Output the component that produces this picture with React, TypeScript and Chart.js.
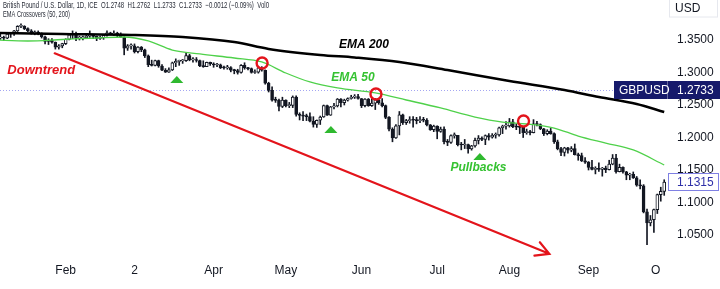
import React, { useEffect, useRef } from "react";
import { Chart, registerables } from "chart.js";

Chart.register(...registerables);

// ---- Daily candles [open, high, low, close] ----
const jan = [
  [1.3530, 1.3540, 1.3480, 1.3490], [1.3490, 1.3560, 1.3450, 1.3530], [1.3530, 1.3600, 1.3510, 1.3545],
  [1.3545, 1.3560, 1.3490, 1.3530], [1.3530, 1.3600, 1.3520, 1.3590], [1.3590, 1.3600, 1.3540, 1.3595],
  [1.3595, 1.3650, 1.3570, 1.3640], [1.3640, 1.3720, 1.3630, 1.3710], [1.3710, 1.3748, 1.3690, 1.3712],
  [1.3712, 1.3720, 1.3660, 1.3676], [1.3676, 1.3686, 1.3630, 1.3640], [1.3640, 1.3660, 1.3590, 1.3610],
  [1.3610, 1.3640, 1.3580, 1.3620], [1.3620, 1.3640, 1.3580, 1.3600], [1.3600, 1.3610, 1.3530, 1.3550],
  [1.3550, 1.3560, 1.3440, 1.3480], [1.3480, 1.3520, 1.3430, 1.3500], [1.3500, 1.3520, 1.3450, 1.3465],
  [1.3465, 1.3470, 1.3360, 1.3390], [1.3390, 1.3430, 1.3360, 1.3410], [1.3410, 1.3450, 1.3380, 1.3445],
];
const feb = [
  [1.3445, 1.3520, 1.3430, 1.3510], [1.3510, 1.3590, 1.3500, 1.3580], [1.3580, 1.3640, 1.3520, 1.3600],
  [1.3600, 1.3620, 1.3490, 1.3530], [1.3530, 1.3560, 1.3500, 1.3532], [1.3532, 1.3560, 1.3500, 1.3535],
  [1.3535, 1.3580, 1.3520, 1.3560], [1.3560, 1.3640, 1.3540, 1.3562], [1.3562, 1.3580, 1.3520, 1.3555],
  [1.3555, 1.3560, 1.3490, 1.3525], [1.3525, 1.3560, 1.3510, 1.3535], [1.3535, 1.3580, 1.3510, 1.3570],
  [1.3570, 1.3640, 1.3560, 1.3610], [1.3610, 1.3620, 1.3580, 1.3590], [1.3590, 1.3640, 1.3570, 1.3595],
  [1.3595, 1.3620, 1.3550, 1.3590], [1.3590, 1.3610, 1.3540, 1.3545], [1.3545, 1.3550, 1.3272, 1.3375],
  [1.3375, 1.3430, 1.3340, 1.3410], [1.3410, 1.3440, 1.3360, 1.3412],
];
const mar = [
  [1.3412, 1.3440, 1.3300, 1.3320], [1.3320, 1.3400, 1.3300, 1.3390], [1.3390, 1.3400, 1.3320, 1.3350],
  [1.3350, 1.3360, 1.3230, 1.3255], [1.3255, 1.3270, 1.3090, 1.3120], [1.3120, 1.3190, 1.3100, 1.3110],
  [1.3110, 1.3190, 1.3100, 1.3185], [1.3185, 1.3190, 1.3080, 1.3100], [1.3100, 1.3120, 1.3030, 1.3035],
  [1.3035, 1.3060, 1.3000, 1.3005], [1.3005, 1.3070, 1.3000, 1.3040], [1.3040, 1.3160, 1.3030, 1.3150],
  [1.3150, 1.3210, 1.3090, 1.3170], [1.3170, 1.3190, 1.3110, 1.3180], [1.3180, 1.3200, 1.3140, 1.3182],
  [1.3182, 1.3295, 1.3170, 1.3260], [1.3260, 1.3280, 1.3180, 1.3195], [1.3195, 1.3230, 1.3160, 1.3198],
  [1.3198, 1.3230, 1.3160, 1.3185], [1.3185, 1.3190, 1.3090, 1.3100], [1.3100, 1.3180, 1.3080, 1.3090],
  [1.3090, 1.3160, 1.3090, 1.3155], [1.3155, 1.3160, 1.3110, 1.3135],
];
const apr = [
  [1.3135, 1.3150, 1.3080, 1.3115], [1.3115, 1.3140, 1.3090, 1.3118], [1.3118, 1.3130, 1.3060, 1.3075],
  [1.3075, 1.3100, 1.3050, 1.3070], [1.3070, 1.3110, 1.3050, 1.3075], [1.3075, 1.3090, 1.3010, 1.3035],
  [1.3035, 1.3050, 1.2980, 1.3030], [1.3030, 1.3050, 1.2975, 1.3000], [1.3000, 1.3120, 1.2990, 1.3110],
  [1.3110, 1.3150, 1.3050, 1.3070], [1.3070, 1.3080, 1.3040, 1.3060], [1.3060, 1.3070, 1.2990, 1.3000],
  [1.3000, 1.3040, 1.2985, 1.3005], [1.3005, 1.3090, 1.2990, 1.3070], [1.3070, 1.3090, 1.3020, 1.3035],
  [1.3035, 1.3040, 1.2820, 1.2835], [1.2835, 1.2850, 1.2700, 1.2725], [1.2725, 1.2780, 1.2560, 1.2575],
  [1.2575, 1.2620, 1.2540, 1.2570], [1.2570, 1.2590, 1.2410, 1.2480], [1.2480, 1.2620, 1.2460, 1.2575],
];
const may = [
  [1.2575, 1.2580, 1.2470, 1.2490], [1.2490, 1.2540, 1.2460, 1.2492], [1.2492, 1.2640, 1.2460, 1.2620],
  [1.2620, 1.2640, 1.2330, 1.2355], [1.2355, 1.2380, 1.2270, 1.2340], [1.2340, 1.2400, 1.2260, 1.2330],
  [1.2330, 1.2360, 1.2260, 1.2320], [1.2320, 1.2380, 1.2240, 1.2250], [1.2250, 1.2320, 1.2160, 1.2200],
  [1.2200, 1.2270, 1.2155, 1.2265], [1.2265, 1.2330, 1.2200, 1.2315], [1.2315, 1.2500, 1.2310, 1.2490],
  [1.2490, 1.2500, 1.2340, 1.2345], [1.2345, 1.2480, 1.2340, 1.2470], [1.2470, 1.2525, 1.2440, 1.2485],
  [1.2485, 1.2600, 1.2470, 1.2590], [1.2590, 1.2600, 1.2470, 1.2535], [1.2535, 1.2590, 1.2500, 1.2575],
  [1.2575, 1.2610, 1.2560, 1.2600], [1.2600, 1.2650, 1.2590, 1.2620], [1.2620, 1.2660, 1.2600, 1.2630],
  [1.2630, 1.2665, 1.2590, 1.2600],
];
const jun = [
  [1.2600, 1.2600, 1.2460, 1.2490], [1.2490, 1.2600, 1.2470, 1.2590], [1.2590, 1.2600, 1.2480, 1.2490],
  [1.2490, 1.2600, 1.2480, 1.2530], [1.2530, 1.2600, 1.2430, 1.2580], [1.2580, 1.2600, 1.2510, 1.2535],
  [1.2535, 1.2600, 1.2470, 1.2490], [1.2490, 1.2500, 1.2290, 1.2310], [1.2310, 1.2320, 1.2100, 1.2130],
  [1.2130, 1.2150, 1.1934, 1.1995], [1.1995, 1.2200, 1.1985, 1.2180], [1.2180, 1.2400, 1.2040, 1.2350],
  [1.2350, 1.2360, 1.2200, 1.2230], [1.2230, 1.2280, 1.2200, 1.2260], [1.2260, 1.2320, 1.2220, 1.2275],
  [1.2275, 1.2320, 1.2160, 1.2265], [1.2265, 1.2310, 1.2210, 1.2260], [1.2260, 1.2320, 1.2230, 1.2270],
  [1.2270, 1.2310, 1.2240, 1.2265], [1.2265, 1.2290, 1.2180, 1.2195], [1.2195, 1.2200, 1.2110, 1.2120],
  [1.2120, 1.2190, 1.2090, 1.2175],
];
const jul = [
  [1.2175, 1.2180, 1.1980, 1.2095], [1.2095, 1.2160, 1.2080, 1.2130], [1.2130, 1.2165, 1.1900, 1.1935],
  [1.1935, 1.1970, 1.1875, 1.1925], [1.1925, 1.2040, 1.1910, 1.2030], [1.2030, 1.2070, 1.1990, 1.2032],
  [1.2032, 1.2032, 1.1870, 1.1890], [1.1890, 1.1925, 1.1810, 1.1885], [1.1885, 1.1970, 1.1830, 1.1890],
  [1.1890, 1.1900, 1.1760, 1.1825], [1.1825, 1.1880, 1.1805, 1.1870], [1.1870, 1.1990, 1.1850, 1.1955],
  [1.1955, 1.2030, 1.1900, 1.1990], [1.1990, 1.2010, 1.1950, 1.1970], [1.1970, 1.2040, 1.1890, 1.2030],
  [1.2030, 1.2060, 1.1960, 1.2005], [1.2005, 1.2060, 1.1990, 1.2035], [1.2035, 1.2070, 1.1990, 1.2040],
  [1.2040, 1.2160, 1.2020, 1.2150], [1.2150, 1.2190, 1.2060, 1.2175], [1.2175, 1.2245, 1.2130, 1.2180],
];
const aug = [
  [1.2180, 1.2293, 1.2160, 1.2240], [1.2240, 1.2280, 1.2150, 1.2165], [1.2165, 1.2210, 1.2120, 1.2160],
  [1.2160, 1.2190, 1.2060, 1.2155], [1.2155, 1.2170, 1.2000, 1.2075], [1.2075, 1.2130, 1.2050, 1.2080],
  [1.2080, 1.2110, 1.2040, 1.2075], [1.2075, 1.2275, 1.2070, 1.2210], [1.2210, 1.2250, 1.2180, 1.2200],
  [1.2200, 1.2210, 1.2120, 1.2135], [1.2135, 1.2140, 1.2030, 1.2060], [1.2060, 1.2120, 1.2040, 1.2100],
  [1.2100, 1.2140, 1.2050, 1.2060], [1.2060, 1.2070, 1.1910, 1.1935], [1.1935, 1.1960, 1.1810, 1.1830],
  [1.1830, 1.1850, 1.1720, 1.1770], [1.1770, 1.1850, 1.1715, 1.1840], [1.1840, 1.1850, 1.1760, 1.1805],
  [1.1805, 1.1860, 1.1780, 1.1830], [1.1830, 1.1900, 1.1730, 1.1735], [1.1735, 1.1760, 1.1650, 1.1720],
  [1.1720, 1.1760, 1.1630, 1.1640], [1.1640, 1.1690, 1.1600, 1.1620],
];
const sep = [
  [1.1620, 1.1630, 1.1500, 1.1540], [1.1540, 1.1650, 1.1500, 1.1510], [1.1510, 1.1550, 1.1440, 1.1525],
  [1.1525, 1.1610, 1.1480, 1.1510], [1.1510, 1.1540, 1.1405, 1.1530], [1.1530, 1.1560, 1.1460, 1.1505],
  [1.1505, 1.1650, 1.1500, 1.1590], [1.1590, 1.1738, 1.1580, 1.1685], [1.1685, 1.1740, 1.1450, 1.1475],
  [1.1475, 1.1590, 1.1470, 1.1540], [1.1540, 1.1550, 1.1450, 1.1470], [1.1470, 1.1480, 1.1350, 1.1420],
  [1.1420, 1.1450, 1.1350, 1.1435], [1.1435, 1.1470, 1.1370, 1.1380], [1.1380, 1.1400, 1.1250, 1.1265],
  [1.1265, 1.1350, 1.1210, 1.1255], [1.1255, 1.1275, 1.0840, 1.0856], [1.0856, 1.0900, 1.0350, 1.0685],
  [1.0685, 1.0800, 1.0640, 1.0735], [1.0735, 1.0900, 1.0540, 1.0890], [1.0890, 1.1130, 1.0830, 1.1120],
  [1.1120, 1.1235, 1.1020, 1.1170],
];
const oct = [[1.1170, 1.1350, 1.1110, 1.1315]];

// ---- Moving averages (bar index, value) ----
const ema200Idx = [0, 20, 40, 55, 70, 80, 95, 105, 118, 132, 150, 166, 176, 187, 195];
const ema200Val = [1.3608, 1.3592, 1.3577, 1.3546, 1.3469, 1.3362, 1.3269, 1.3231, 1.3162, 1.3038, 1.2869, 1.2731, 1.2623, 1.2515, 1.2392];
const ema50Idx = [0, 10, 20, 30, 38, 45, 52, 60, 70, 78, 85, 92, 100, 111, 120, 130, 140, 148, 155, 163, 170, 178, 186, 195];
const ema50Val = [1.3500, 1.3485, 1.3508, 1.3531, 1.3546, 1.3485, 1.3346, 1.3285, 1.3223, 1.3162, 1.2992, 1.2854, 1.2762, 1.2685, 1.2577, 1.2454, 1.2315, 1.2238, 1.2208, 1.2146, 1.2023, 1.1915, 1.1808, 1.1577];

// ---- Axis ticks ----
const monthTickIdx = [21, 41, 64, 85, 107, 129, 150, 173, 192.5];
const monthTickLabels = ["Feb", "2", "Apr", "May", "Jun", "Jul", "Aug", "Sep", "O"];
const priceTicks = [1.05, 1.1, 1.15, 1.2, 1.25, 1.3, 1.35];
const xRange = [1.9, 196.1];
const yRange = [1.01615, 1.41154];

// ---- Reference price / labels ----
const refPrice = 1.2733;
const symbolName = "GBPUSD";
const currency = "USD";
const titleLine1 = "British Pound / U.S. Dollar, 1D, ICE  O1.2748  H1.2762  L1.2733  C1.2733  \u22120.0012 (\u22120.09%)  Vol0";
const titleLine2 = "EMA Crossovers (50, 200)";

// ---- Annotations (bar index, price) ----
const circleIdx = [78.1, 111.2, 154.1];
const circlePrice = [1.3146, 1.2669, 1.2254];
const triangleIdx = [53.3, 98.1, 141.4];
const trianglePrice = [1.2946, 1.2177, 1.1762];
const arrowFrom = [17.8, 1.3295];
const arrowTo = [161.6, 1.0210];
const noteText = ["Downtrend", "EMA 200", "EMA 50", "Pullbacks"];
const noteIdx = [13.9, 107.7, 104.5, 141.0];
const notePrice = [1.3031, 1.3423, 1.2915, 1.1538];
const noteColor = ["#e3141b", "#000000", "#35c231", "#35c231"];

const candles = [...jan, ...feb, ...mar, ...apr, ...may, ...jun, ...jul, ...aug, ...sep, ...oct];

const INK = "#131722";
const RED = "#e3141b";
const GREEN = "#2fb92f";

const overlay = {
  id: "overlay",
  beforeDatasetsDraw(chart: any) {
    const { ctx, chartArea, scales } = chart;
    const y = Math.round(scales.y.getPixelForValue(refPrice)) + 0.5;
    ctx.save();
    ctx.strokeStyle = "#a4a6f2";
    ctx.lineWidth = 1;
    ctx.setLineDash([1, 2]);
    ctx.beginPath();
    ctx.moveTo(chartArea.left, y);
    ctx.lineTo(chartArea.right, y);
    ctx.stroke();
    ctx.restore();
  },
  afterDatasetsDraw(chart: any) {
    const { ctx, scales } = chart;
    const X = (v: number) => scales.x.getPixelForValue(v);
    const Y = (v: number) => scales.y.getPixelForValue(v);
    ctx.save();
    const x1 = X(arrowFrom[0]), y1 = Y(arrowFrom[1]);
    const x2 = X(arrowTo[0]), y2 = Y(arrowTo[1]);
    ctx.strokeStyle = RED;
    ctx.lineWidth = 2.2;
    ctx.lineCap = "round";
    ctx.beginPath();
    ctx.moveTo(x1, y1);
    ctx.lineTo(x2, y2);
    const ang = Math.atan2(y2 - y1, x2 - x1);
    const hl = 15;
    ctx.moveTo(x2 + hl * Math.cos(ang + Math.PI - 0.5), y2 + hl * Math.sin(ang + Math.PI - 0.5));
    ctx.lineTo(x2, y2);
    ctx.lineTo(x2 + hl * Math.cos(ang + Math.PI + 0.5), y2 + hl * Math.sin(ang + Math.PI + 0.5));
    ctx.stroke();
    ctx.lineWidth = 2.4;
    circleIdx.forEach((ci, k) => {
      ctx.beginPath();
      ctx.arc(X(ci), Y(circlePrice[k]), 5.5, 0, Math.PI * 2);
      ctx.stroke();
    });
    ctx.fillStyle = GREEN;
    triangleIdx.forEach((ti, k) => {
      const cx = X(ti), top = Y(trianglePrice[k]);
      ctx.beginPath();
      ctx.moveTo(cx, top);
      ctx.lineTo(cx + 6.5, top + 7);
      ctx.lineTo(cx - 6.5, top + 7);
      ctx.closePath();
      ctx.fill();
    });
    ctx.textAlign = "center";
    ctx.textBaseline = "middle";
    noteText.forEach((t, k) => {
      ctx.font = `italic bold ${k === 0 ? 13 : 12}px "Liberation Sans", Arial, sans-serif`;
      ctx.fillStyle = noteColor[k];
      ctx.fillText(t, X(noteIdx[k]), Y(notePrice[k]));
    });
    ctx.restore();
  },
  afterDraw(chart: any) {
    const { ctx, chartArea, scales, width } = chart;
    const R = chartArea.right;
    ctx.save();
    ctx.font = '12px "Liberation Sans", Arial, sans-serif';
    ctx.textBaseline = "middle";
    const ry = Math.round(scales.y.getPixelForValue(refPrice));
    ctx.fillStyle = "#161a6b";
    ctx.fillRect(R - 54, ry - 9, width - (R - 54), 18);
    ctx.fillStyle = "rgba(255,255,255,0.35)";
    ctx.fillRect(R - 1, ry - 9, 1, 18);
    ctx.fillStyle = "#ffffff";
    ctx.textAlign = "left";
    ctx.fillText(symbolName, R - 49, ry + 0.5);
    ctx.fillText(refPrice.toFixed(4), R + 9, ry + 0.5);
    const last = candles[candles.length - 1][3];
    const ly = Math.round(scales.y.getPixelForValue(last));
    ctx.fillStyle = "#ffffff";
    ctx.fillRect(R, ly - 9, width - R - 1, 18);
    ctx.strokeStyle = "#7f80e3";
    ctx.lineWidth = 1;
    ctx.strokeRect(R + 0.5, ly - 8.5, width - R - 2, 17);
    ctx.fillStyle = "#2f30a8";
    ctx.fillText(last.toFixed(4), R + 9, ly + 0.5);
    ctx.fillStyle = "#ffffff";
    ctx.fillRect(R + 1, 0, width - R - 3, 17);
    ctx.strokeStyle = "#e6e8ee";
    ctx.strokeRect(R + 1.5, -1, width - R - 4, 18);
    ctx.fillStyle = INK;
    ctx.fillText(currency, R + 7, 9);
    ctx.font = '9px "Liberation Sans", Arial, sans-serif';
    ctx.fillStyle = "#2a2e39";
    ctx.fillText(titleLine1, 3, 5.5, 266);
    ctx.fillText(titleLine2, 3, 14.5, 67);
    ctx.restore();
  },
};

export default function App() {
  const ref = useRef<HTMLCanvasElement>(null);
  useEffect(() => {
    document.body.style.margin = "0";
    const canvas = ref.current!;
    const idx = candles.map((_, i) => i);
    const chart = new Chart(canvas, {
      type: "bar",
      data: {
        datasets: [
          {
            type: "line",
            label: "EMA 200",
            data: ema200Idx.map((v, k) => ({ x: v, y: ema200Val[k] })),
            borderColor: "#000000",
            borderWidth: 2.5,
            pointRadius: 0,
            cubicInterpolationMode: "monotone",
            order: 0,
          },
          {
            type: "line",
            label: "EMA 50",
            data: ema50Idx.map((v, k) => ({ x: v, y: ema50Val[k] })),
            borderColor: "#4fd14a",
            borderWidth: 1.3,
            pointRadius: 0,
            cubicInterpolationMode: "monotone",
            order: 0,
          },
          {
            type: "bar",
            label: "wick",
            data: idx.map((i) => ({ x: i, y: [candles[i][2], candles[i][1]] })),
            backgroundColor: INK,
            borderWidth: 0,
            barThickness: 1,
            grouped: false,
            order: 3,
          } as any,
          {
            type: "bar",
            label: "body",
            data: idx.map((i) => ({ x: i, y: [candles[i][0], candles[i][3]] })),
            backgroundColor: (c: any) =>
              candles[c.dataIndex] && candles[c.dataIndex][3] >= candles[c.dataIndex][0] ? "#ffffff" : INK,
            borderColor: INK,
            borderWidth: 1,
            borderSkipped: false,
            barThickness: 3,
            minBarLength: 1,
            grouped: false,
            order: 2,
          } as any,
        ],
      },
      options: {
        responsive: false,
        animation: false,
        events: [],
        layout: { padding: 0 },
        plugins: { legend: { display: false }, tooltip: { enabled: false }, title: { display: false } },
        scales: {
          x: {
            type: "linear",
            min: xRange[0],
            max: xRange[1],
            offset: false,
            grid: { display: false, drawTicks: false },
            border: { display: false },
            ticks: {
              autoSkip: false,
              maxRotation: 0,
              color: INK,
              padding: 6,
              font: { size: 12, family: '"Liberation Sans", Arial, sans-serif' },
              callback: (v: any) => {
                const k = monthTickIdx.indexOf(Number(v));
                return k >= 0 ? monthTickLabels[k] : "";
              },
            },
            afterBuildTicks: (axis: any) => {
              axis.ticks = monthTickIdx.map((v) => ({ value: v }));
            },
            afterFit: (axis: any) => {
              axis.height = 32;
              axis.paddingLeft = 0;
              axis.paddingRight = 0;
              axis.paddingTop = 0;
              axis.paddingBottom = 0;
            },
          },
          y: {
            type: "linear",
            position: "right",
            min: yRange[0],
            max: yRange[1],
            grid: { display: false, drawTicks: false },
            border: { display: false },
            ticks: {
              color: INK,
              padding: 9,
              font: { size: 12, family: '"Liberation Sans", Arial, sans-serif' },
              callback: (v: any) => Number(v).toFixed(4),
            },
            afterBuildTicks: (axis: any) => {
              axis.ticks = priceTicks.map((v) => ({ value: v }));
            },
            afterFit: (axis: any) => {
              axis.width = 52;
              axis.paddingTop = 0;
              axis.paddingBottom = 0;
              axis.paddingLeft = 0;
              axis.paddingRight = 0;
            },
          },
        },
      },
      plugins: [overlay],
    } as any);
    return () => chart.destroy();
  }, []);
  return <canvas ref={ref} width={720} height={289} style={{ display: "block", width: 720, height: 289 }} />;
}
